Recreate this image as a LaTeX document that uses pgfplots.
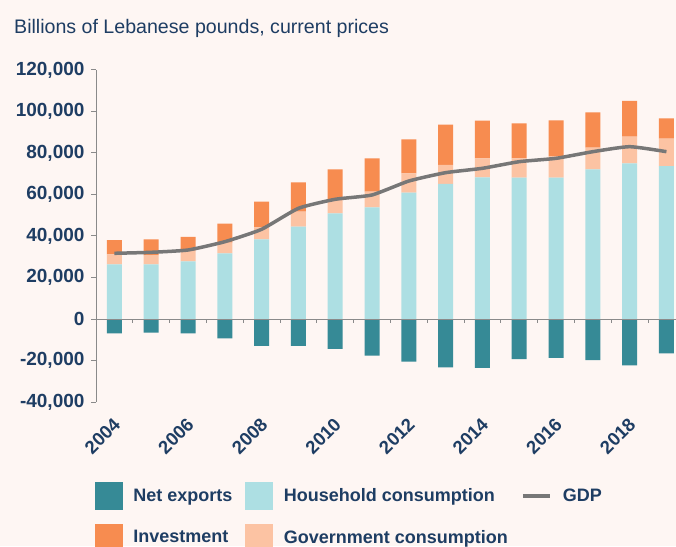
\documentclass[border=0pt]{standalone}
\usepackage{pgfplots}
\pgfplotsset{compat=1.18}
\usepackage{pgfplotstable}
\usepackage{fontspec}
\setmainfont{Liberation Sans}
\definecolor{bg}{HTML}{FEF6F3}
\definecolor{txt}{HTML}{1E3D63}
\definecolor{nx}{HTML}{368A96}
\definecolor{hh}{HTML}{ADDFE3}
\definecolor{gov}{HTML}{FCC3A3}
\definecolor{inv}{HTML}{F78C50}
\definecolor{gdp}{HTML}{777777}
\definecolor{axc}{HTML}{8A8A8A}

\pgfplotstableread{
x year hh gov inv nx gdp
0 2004 26360 4820 6890 -6900 31660
1 2005 26360 4480 7560 -6600 32140
2 2006 27800 5120 6600 -6900 33250
3 2007 31660 5110 9160 -9300 37250
4 2008 38410 5780 12340 -12900 43230
5 2009 44480 7230 14170 -12900 53350
6 2010 50940 6750 14450 -14400 57690
7 2011 53820 7550 16080 -17600 59770
8 2012 60870 9330 16400 -20600 66500
9 2013 65060 9160 19420 -23300 70520
10 2014 68270 9160 18140 -23600 72620
11 2015 68110 9320 16870 -19300 75820
12 2016 68110 10440 17190 -18700 77430
13 2017 72130 10440 17030 -19800 80640
14 2018 75020 12850 17190 -22300 83050
15 2019 73730 13170 9810 -16600 80640
}\data

\begin{document}
\begin{tikzpicture}
\fill[bg] (0pt,0pt) rectangle (676pt,546pt);
\useasboundingbox (0pt,0pt) rectangle (676pt,546pt);
\node[anchor=base west, font=\fontsize{19.6}{22}\selectfont, text=txt, inner sep=0pt] at (14pt,512pt) {Billions of Lebanese pounds, current prices};

\begin{axis}[
  at={(96pt,144pt)}, anchor=south west, scale only axis,
  width=580pt, height=332pt,
  xmin=-0.5, xmax=15.26, ymin=-40000, ymax=120000,
  hide axis, ybar stacked, bar width=15pt,
]
\addplot[fill=hh, draw=none] table[x=x,y=hh]{\data};
\addplot[fill=gov, draw=none] table[x=x,y=gov]{\data};
\addplot[fill=inv, draw=none] table[x=x,y=inv]{\data};
\end{axis}

\begin{axis}[
  at={(96pt,144pt)}, anchor=south west, scale only axis,
  width=580pt, height=332pt,
  xmin=-0.5, xmax=15.26, ymin=-40000, ymax=120000,
  axis x line*=bottom, axis y line*=left,
  x axis line style={draw=none},
  y axis line style={axc, line width=1pt},
  xtick={0,2,...,14},
  xticklabels={2004,2006,2008,2010,2012,2014,2016,2018},
  xtick style={draw=none},
  ytick={-40000,-20000,0,20000,40000,60000,80000,100000,120000},
  yticklabels={{-40,000},{-20,000},0,{20,000},{40,000},{60,000},{80,000},{100,000},{120,000}},
  scaled y ticks=false,
  ytick style={axc, line width=1pt},
  tick align=outside, major tick length=5pt,
  yticklabel style={font=\bfseries\fontsize{19}{21}\selectfont, text=txt, xshift=-3pt},
  xticklabel style={font=\bfseries\fontsize{18.5}{20}\selectfont, text=txt, anchor=east, xshift=5pt, yshift=-12pt, rotate=45},
  legend columns=3,
  legend cell align=left,
  legend style={at={(axis description cs:-0.002,-0.241)}, anchor=north west,
    draw=none, fill=none, inner sep=0pt, row sep=14pt,
    font=\bfseries\fontsize{18}{20}\selectfont, text=txt,
    nodes={inner sep=0pt},
    /tikz/every odd column/.style={column sep=11pt},
    /tikz/every even column/.style={column sep=13pt}},
]
\addlegendimage{legend image code/.code={\fill[nx] (0pt,-13.5pt) rectangle (27pt,13.5pt);}}
\addlegendimage{legend image code/.code={\fill[hh] (0pt,-13.5pt) rectangle (27pt,13.5pt);}}
\addlegendimage{legend image code/.code={\draw[gdp, line width=4pt] (0pt,0pt) -- (27pt,0pt);}}
\addlegendimage{legend image code/.code={\fill[inv] (0pt,-13.5pt) rectangle (27pt,13.5pt);}}
\addlegendimage{legend image code/.code={\fill[gov] (0pt,-13.5pt) rectangle (27pt,13.5pt);}}
\legend{Net exports, Household consumption, GDP, Investment, Government consumption}

\addplot[ybar, bar width=15pt, bar shift=0pt, fill=nx, draw=none, forget plot] table[x=x,y=nx]{\data};
\draw[axc, line width=1pt] (axis cs:-0.5,0) -- (axis cs:15.26,0);
\pgfplotsinvokeforeach{0.5,1.5,...,14.5}{\draw[axc, line width=1pt] (axis cs:#1,0) -- ++(0pt,-4pt);}
\addplot[gdp, line width=3.5pt, smooth, tension=0.3, forget plot] table[x=x,y=gdp]{\data};
\end{axis}
\end{tikzpicture}
\end{document}
